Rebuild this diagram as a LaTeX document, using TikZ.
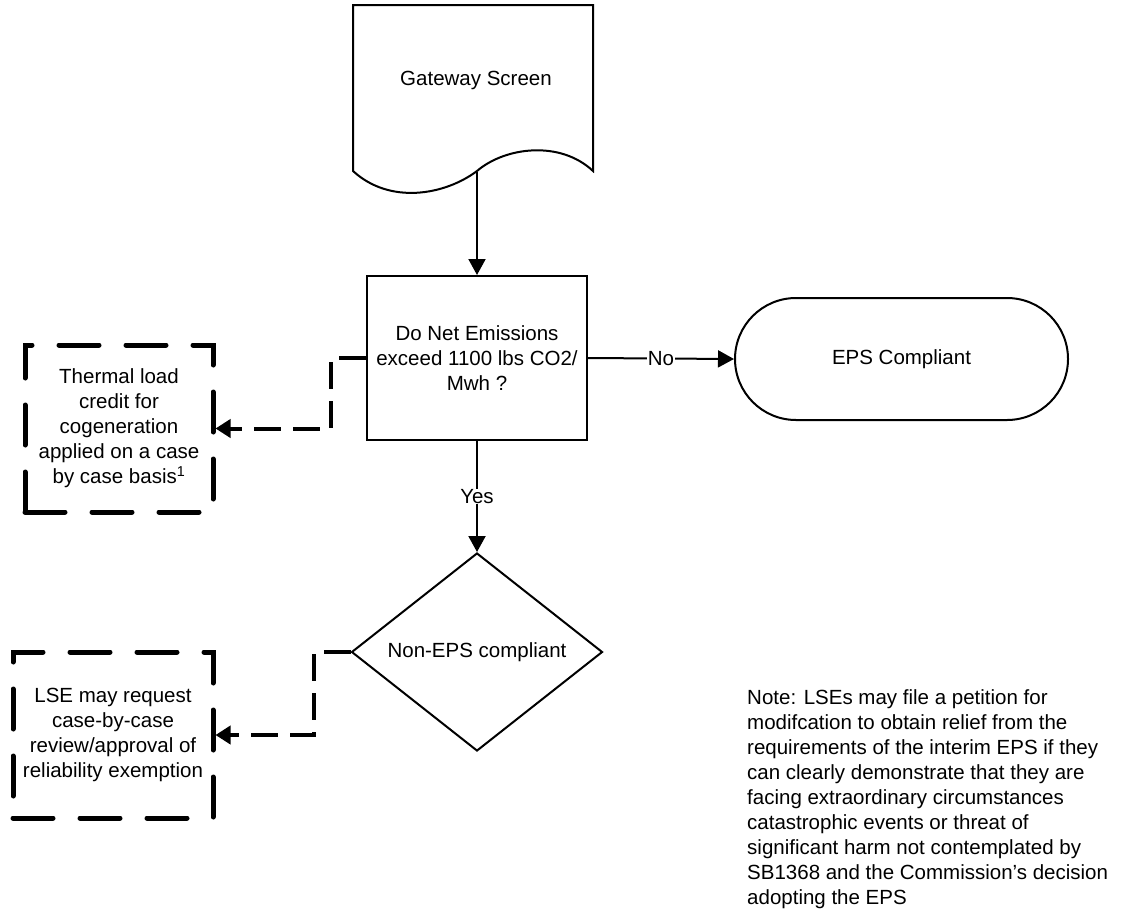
\documentclass[tikz,border=0pt]{standalone}
\usepackage{fontspec}
\setmainfont{Liberation Sans}
\usetikzlibrary{arrows.meta,shapes.geometric,shapes.misc}

\begin{document}
\begin{tikzpicture}[x=1pt,y=-1pt,
  every node/.style={font=\fontsize{20.5}{25}\selectfont},
  outline/.style={draw=black,line width=2pt},
  flow/.style={line width=2pt,-{Triangle[length=16pt,width=17pt]}},
  aside/.style={line width=4pt,dash pattern=on 27pt off 12pt,-{Triangle[length=15pt,width=18pt]}},
  sidebox/.style={draw=black,line width=5pt,line cap=round,dash pattern=on 40pt off 27pt,align=center,inner sep=0pt},
  tag/.style={fill=white,inner sep=0.5pt}]
\useasboundingbox (0,0) rectangle (1124,913);

% document symbol with wavy lower edge
\draw[outline,line join=miter] (353,171) -- (353,5) -- (593,5) -- (593,171)
   .. controls (560,140) and (505,147) .. (477,171)
   .. controls (445,195) and (390,205) .. (353,171) -- cycle;
\node (gw) at (476,80) {Gateway Screen};
\coordinate (gwout) at (477,172);

% process, terminal and decision
\node[outline, minimum width=220pt, minimum height=164pt, inner sep=0pt, align=center] (dec) at (477,358)
  {Do Net Emissions\\exceed 1100 lbs CO2/\\Mwh ?};
\node[outline, rounded rectangle, minimum width=333pt, minimum height=122pt, inner sep=0pt] (term) at (901.5,359)
  {EPS Compliant};
\node[outline, diamond, aspect=1.27, minimum width=251pt, minimum height=198pt, inner sep=0pt] (dia) at (477,652)
  {Non-EPS compliant};

% side notes in heavy dashed frames
\node[sidebox, minimum width=188pt, minimum height=167pt] (thermal) at (119,428.5)
  {Thermal load\\credit for\\cogeneration\\applied on a case\\by case basis\textsuperscript{1}};
\node[sidebox, minimum width=200pt, minimum height=166pt] (lse) at (113,735)
  {LSE may request\\case-by-case\\review/approval of\\reliability exemption};

% connectors
\draw[flow] (gwout) -- (dec.north);
\draw[flow] (dec.east) -- node[tag]{No} (term.west);
\draw[flow] (dec.south) -- node[tag]{Yes} (dia.north);
\draw[aside] (dec.west) -- ++(-35,0) |- (thermal.east);
\draw[aside] (dia.west) -- ++(-37,0) |- (lse.east);

% footnote text
\node[anchor=north west, inner sep=0pt, align=left] (note) at (747,689)
  {Note: LSEs may file a petition for\\modifcation to obtain relief from the\\requirements of the interim EPS if they\\can clearly demonstrate that they are\\facing extraordinary circumstances\\catastrophic events or threat of\\significant harm not contemplated by\\SB1368 and the Commission’s decision\\adopting the EPS};
\end{tikzpicture}
\end{document}
